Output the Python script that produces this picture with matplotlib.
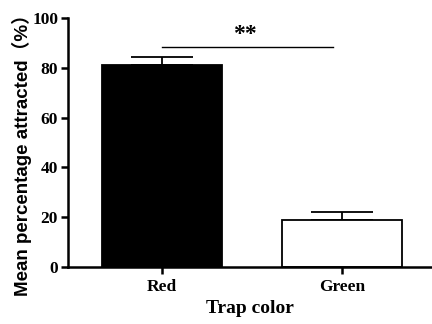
import numpy as np
import matplotlib
matplotlib.use("Agg")
import matplotlib.pyplot as plt

# data
colors = ["Red", "Green"]
means = [81.1, 18.7]
sem = [3.2, 3.2]
bar_fill = ["black", "white"]
sig_y = 88.6
sig_text = "**"

fig = plt.figure(figsize=(4.32, 3.24), dpi=100)
ax = fig.add_axes([0.157, 0.176, 0.843, 0.768])

x = np.arange(len(colors))
ax.bar(x, means, width=0.667, color=bar_fill, edgecolor="black", linewidth=1.3, zorder=2)
# only upper error bars
ax.errorbar(x, means, yerr=[np.zeros(len(sem)), sem], fmt="none", ecolor="black",
            elinewidth=1.3, capsize=22, capthick=1.3, zorder=1)

# significance line
ax.plot([0, 0.95], [sig_y, sig_y], color="black", lw=1.0)
ax.text(0.46, sig_y + 0.8, sig_text, ha="center", va="bottom",
        fontsize=17, fontfamily="Liberation Serif", fontweight="bold")

ax.set_xlim(-0.522, 1.5)
ax.set_ylim(0, 100)
ax.set_yticks([0, 20, 40, 60, 80, 100])
ax.set_xticks(x)
ax.set_xticklabels(colors)

for s in ["top", "right"]:
    ax.spines[s].set_visible(False)
for s in ["left", "bottom"]:
    ax.spines[s].set_linewidth(1.8)
ax.tick_params(width=1.8, length=5)
ax.tick_params(axis="y", pad=2)

for lab in ax.get_xticklabels():
    lab.set_fontfamily("Liberation Serif")
    lab.set_fontweight("bold")
    lab.set_fontsize(12.5)
for lab in ax.get_yticklabels():
    lab.set_fontfamily("Liberation Serif")
    lab.set_fontweight("bold")
    lab.set_fontsize(12.5)

ax.set_xlabel("Trap color", fontfamily="Liberation Serif", fontweight="bold", fontsize=14)
ax.set_ylabel("Mean percentage attracted（%）", family=["Liberation Sans", "Noto Sans CJK SC"],
              fontweight="bold", fontsize=13.5)
ax.yaxis.set_label_coords(-0.098, 0.466)

fig.savefig("out.png", dpi=100)
